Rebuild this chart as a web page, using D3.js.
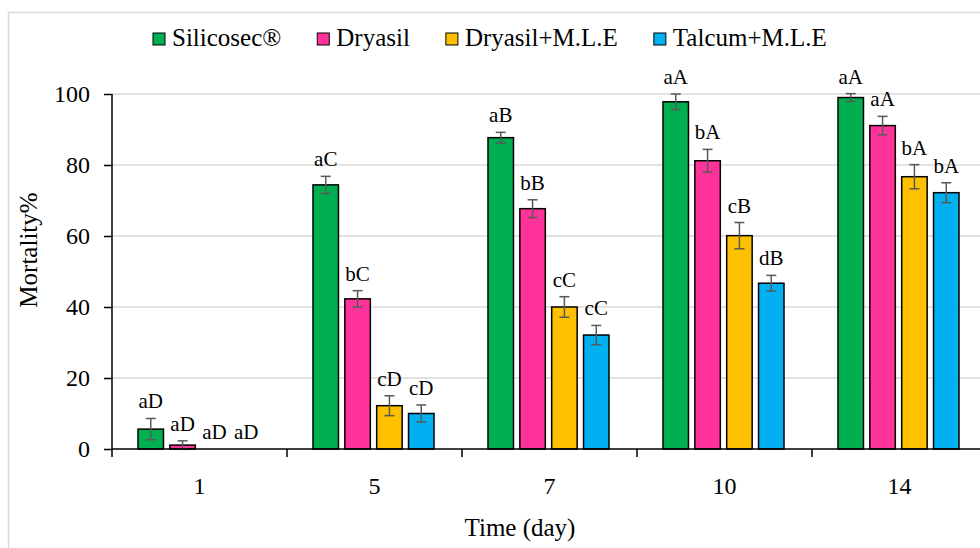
<!DOCTYPE html>
<html>
<head>
<meta charset="utf-8">
<script src="https://cdn.jsdelivr.net/npm/d3@7"></script>
<style>
    body { margin: 0; background: #fff; }
</style>
</head>
<body>
<script>
var svgWidth = 980;
var svgHeight = 548;
var serifFont = "'Liberation Serif', 'Times New Roman', Times, 'DejaVu Serif', serif";

var days = ["1", "5", "7", "10", "14"];
var seriesNames = ["Silicosec®", "Dryasil", "Dryasil+M.L.E", "Talcum+M.L.E"];
var seriesColors = ["#00b050", "#ff3399", "#ffc000", "#00b0f0"];

// mortality % per series, one value per day
var silicosec = [5.6, 74.4, 87.7, 97.8, 99.0];
var dryasil = [1.1, 42.3, 67.7, 81.2, 91.1];
var dryasilMle = [0, 12.2, 40.0, 60.1, 76.7];
var talcumMle = [0, 10.0, 32.1, 46.7, 72.2];

var silicosecErr = [3.0, 2.4, 1.5, 2.2, 1.1];
var dryasilErr = [1.2, 2.3, 2.5, 3.2, 2.6];
var dryasilMleErr = [0, 2.8, 2.9, 3.7, 3.4];
var talcumMleErr = [0, 2.4, 2.7, 2.2, 2.8];

var silicosecLetters = ["aD", "aC", "aB", "aA", "aA"];
var dryasilLetters = ["aD", "bC", "bB", "bA", "aA"];
var dryasilMleLetters = ["aD", "cD", "cC", "cB", "bA"];
var talcumMleLetters = ["aD", "cD", "cC", "dB", "bA"];

var yTicks = [0, 20, 40, 60, 80, 100];

var values = [silicosec, dryasil, dryasilMle, talcumMle];
var errors = [silicosecErr, dryasilErr, dryasilMleErr, talcumMleErr];
var letters = [silicosecLetters, dryasilLetters, dryasilMleLetters, talcumMleLetters];

var bars = [];
days.forEach((day, i) => {
    seriesNames.forEach((s, j) => {
        bars.push({ day: day, series: s, color: seriesColors[j], value: values[j][i], err: errors[j][i], label: letters[j][i] });
    });
});

var plotLeft = 112;
var plotTop = 94;
var plotBottom = 449;
var bandWidth = 175;

var x0 = d3.scaleBand()
    .domain(days)
    .range([plotLeft, plotLeft + bandWidth * days.length]);

var x1 = d3.scaleBand()
    .domain(seriesNames)
    .range([26, 147])
    .paddingInner(0.2);

var y = d3.scaleLinear()
    .domain([0, 100])
    .range([plotBottom, plotTop]);

var svg = d3.select("body")
    .append("svg")
    .attr("width", svgWidth)
    .attr("height", svgHeight)
    .attr("font-family", serifFont);

// chart frame
svg.append("rect")
    .attr("x", 8.5)
    .attr("y", 12.5)
    .attr("width", 1000)
    .attr("height", 600)
    .attr("fill", "none")
    .attr("stroke", "#d9d9d9")
    .attr("stroke-width", 1.5);

// gridlines
svg.selectAll(".grid")
    .data(yTicks.filter(d => d > 0)).enter()
    .append("line")
    .attr("x1", plotLeft)
    .attr("x2", svgWidth)
    .attr("y1", d => y(d))
    .attr("y2", d => y(d))
    .attr("stroke", "#d9d9d9")
    .attr("stroke-width", 1.5);

// bars
svg.selectAll(".bar")
    .data(bars).enter()
    .append("rect")
    .attr("x", d => x0(d.day) + x1(d.series))
    .attr("y", d => y(d.value))
    .attr("width", x1.bandwidth())
    .attr("height", d => y(0) - y(d.value))
    .attr("fill", d => d.color)
    .attr("stroke", "#000")
    .attr("stroke-width", 1.5);

// error bars
var withErr = bars.filter(d => d.err > 0);
var errGroup = svg.selectAll(".err")
    .data(withErr).enter()
    .append("g")
    .attr("transform", d => "translate(" + (x0(d.day) + x1(d.series) + x1.bandwidth() / 2) + ",0)")
    .attr("stroke", "#595959")
    .attr("stroke-width", 1.5);

errGroup.append("line")
    .attr("y1", d => y(d.value + d.err))
    .attr("y2", d => y(d.value - d.err));
errGroup.append("line")
    .attr("x1", -5).attr("x2", 5)
    .attr("y1", d => y(d.value + d.err))
    .attr("y2", d => y(d.value + d.err));
errGroup.append("line")
    .attr("x1", -5).attr("x2", 5)
    .attr("y1", d => y(d.value - d.err))
    .attr("y2", d => y(d.value - d.err));

// significance letters
svg.selectAll(".letter")
    .data(bars).enter()
    .append("text")
    .attr("x", d => x0(d.day) + x1(d.series) + x1.bandwidth() / 2)
    .attr("y", d => y(d.value + d.err) - 10)
    .attr("text-anchor", "middle")
    .attr("font-size", 21)
    .attr("fill", "#000")
    .text(d => d.label);

// y axis
var yAxis = svg.append("g")
    .attr("transform", "translate(" + plotLeft + ",0)")
    .call(d3.axisLeft(y).tickValues(yTicks).tickSize(8).tickPadding(14));

// x axis
var xAxis = svg.append("g")
    .attr("transform", "translate(0," + plotBottom + ")")
    .call(d3.axisBottom(x0).tickSize(0).tickPadding(28));

xAxis.selectAll(".boundary")
    .data(days).enter()
    .append("line")
    .attr("x1", d => x0(d))
    .attr("x2", d => x0(d))
    .attr("y1", 0)
    .attr("y2", 8)
    .attr("stroke", "#000")
    .attr("stroke-width", 1.5);

[yAxis, xAxis].forEach(a => {
    a.attr("font-family", serifFont).attr("font-size", 24);
    a.select(".domain").attr("stroke", "#000").attr("stroke-width", 1.5);
    a.selectAll(".tick line").attr("stroke", "#000").attr("stroke-width", 1.5);
    a.selectAll(".tick text").attr("fill", "#000");
});
yAxis.select(".domain").attr("d", "M0," + plotBottom + "V" + plotTop);
xAxis.select(".domain").attr("d", "M" + plotLeft + ",0H" + svgWidth);

// axis titles
svg.append("text")
    .attr("transform", "translate(37,250) rotate(-90)")
    .attr("text-anchor", "middle")
    .attr("font-size", 25)
    .text("Mortality%");

svg.append("text")
    .attr("x", 520)
    .attr("y", 536)
    .attr("text-anchor", "middle")
    .attr("font-size", 25)
    .text("Time (day)");

// legend
var legend = svg.append("g");
var legendX = 153;
seriesNames.forEach((s, j) => {
    legend.append("rect")
        .attr("x", legendX)
        .attr("y", 33)
        .attr("width", 12)
        .attr("height", 12)
        .attr("fill", seriesColors[j])
        .attr("stroke", "#000")
        .attr("stroke-width", 1);
    var t = legend.append("text")
        .attr("x", legendX + 19)
        .attr("y", 46)
        .attr("font-size", 25)
        .text(s);
    legendX += 19 + t.node().getComputedTextLength() + 36;
});
</script>
</body>
</html>
